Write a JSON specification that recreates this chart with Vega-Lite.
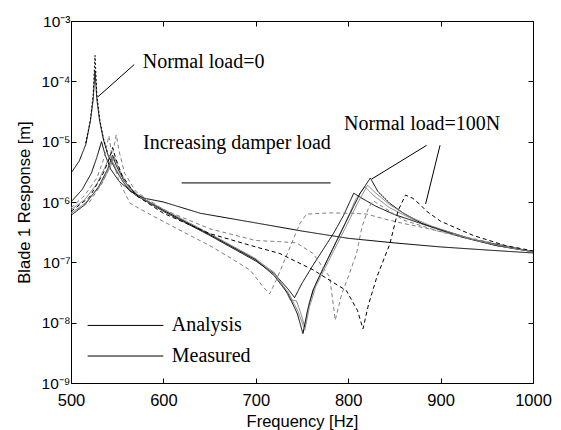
{
"$schema": "https://vega.github.io/schema/vega-lite/v6.json",
"width": 462, "height": 362,
"autosize": {"type": "none"},
"padding": {"left": 71, "top": 21, "right": 28, "bottom": 47},
"background": "white",
"config": {
  "view": {"stroke": "black", "strokeWidth": 1},
  "axis": {"grid": false, "domain": false, "labelFlush": false, "labelOverlap": false, "tickColor": "black", "tickSize": -5, "labelFont": "Liberation Sans", "labelFontSize": 16.5, "labelColor": "black", "titleFont": "Liberation Sans", "titleFontSize": 16.5, "titleFontWeight": "normal", "titleColor": "black"}
},
"datasets": {
"curves": [
{"c":"A0","f":500,"r":3e-6},{"c":"A0","f":509,"r":4.8e-6},{"c":"A0","f":516,"r":9e-6},{"c":"A0","f":521,"r":2.2e-5},{"c":"A0","f":524,"r":5e-5},{"c":"A0","f":526,"r":1.5e-4},{"c":"A0","f":528,"r":5e-5},{"c":"A0","f":531,"r":2.2e-5},{"c":"A0","f":535,"r":1.1e-5},{"c":"A0","f":540,"r":6e-6},{"c":"A0","f":548,"r":3.5e-6},{"c":"A0","f":556,"r":2.2e-6},{"c":"A0","f":564,"r":1.5e-6},{"c":"A0","f":580,"r":1.15e-6},{"c":"A0","f":600,"r":1e-6},{"c":"A0","f":640,"r":6.5e-7},{"c":"A0","f":700,"r":4.5e-7},{"c":"A0","f":750,"r":3.3e-7},{"c":"A0","f":800,"r":2.5e-7},{"c":"A0","f":850,"r":2.1e-7},{"c":"A0","f":900,"r":1.8e-7},{"c":"A0","f":950,"r":1.6e-7},{"c":"A0","f":1000,"r":1.43e-7},
{"c":"M0","f":516,"r":9.5e-6},{"c":"M0","f":521,"r":2.3e-5},{"c":"M0","f":524,"r":6e-5},{"c":"M0","f":526,"r":2.7e-4},{"c":"M0","f":528,"r":6e-5},{"c":"M0","f":531,"r":2.4e-5},{"c":"M0","f":535,"r":1.15e-5},{"c":"M0","f":540,"r":6.2e-6},
{"c":"A1","f":500,"r":1e-6},{"c":"A1","f":512,"r":1.6e-6},{"c":"A1","f":522,"r":3e-6},{"c":"A1","f":528,"r":5.5e-6},{"c":"A1","f":533,"r":1e-5},{"c":"A1","f":537,"r":6e-6},{"c":"A1","f":543,"r":3.5e-6},{"c":"A1","f":552,"r":2.2e-6},{"c":"A1","f":570,"r":1.3e-6},{"c":"A1","f":600,"r":7e-7},{"c":"A1","f":650,"r":2.8e-7},{"c":"A1","f":700,"r":1.05e-7},{"c":"A1","f":720,"r":6.5e-8},{"c":"A1","f":735,"r":3.6e-8},{"c":"A1","f":742,"r":2.6e-8},{"c":"A1","f":750,"r":4.5e-8},{"c":"A1","f":762,"r":9e-8},{"c":"A1","f":784,"r":3e-7},{"c":"A1","f":795,"r":6e-7},{"c":"A1","f":806,"r":1.4e-6},{"c":"A1","f":815,"r":1.15e-6},{"c":"A1","f":830,"r":8.5e-7},{"c":"A1","f":850,"r":6.2e-7},{"c":"A1","f":877,"r":4.5e-7},{"c":"A1","f":900,"r":3.5e-7},{"c":"A1","f":935,"r":2.4e-7},{"c":"A1","f":970,"r":1.85e-7},{"c":"A1","f":1000,"r":1.5e-7},
{"c":"A2","f":500,"r":7.5e-7},{"c":"A2","f":515,"r":1.1e-6},{"c":"A2","f":528,"r":2e-6},{"c":"A2","f":537,"r":3.8e-6},{"c":"A2","f":542,"r":6e-6},{"c":"A2","f":547,"r":4e-6},{"c":"A2","f":555,"r":2.3e-6},{"c":"A2","f":570,"r":1.3e-6},{"c":"A2","f":600,"r":7.2e-7},{"c":"A2","f":650,"r":2.9e-7},{"c":"A2","f":700,"r":1.12e-7},{"c":"A2","f":720,"r":6.8e-8},{"c":"A2","f":732,"r":3.5e-8},{"c":"A2","f":737,"r":2.4e-8},{"c":"A2","f":744,"r":2.3e-8},{"c":"A2","f":749,"r":1.4e-8},{"c":"A2","f":753,"r":8.5e-9},{"c":"A2","f":758,"r":2.2e-8},{"c":"A2","f":765,"r":4.5e-8},{"c":"A2","f":780,"r":1.3e-7},{"c":"A2","f":797,"r":4.5e-7},{"c":"A2","f":808,"r":1.1e-6},{"c":"A2","f":818,"r":1.8e-6},{"c":"A2","f":827,"r":1.3e-6},{"c":"A2","f":845,"r":8e-7},{"c":"A2","f":880,"r":4.3e-7},{"c":"A2","f":920,"r":2.7e-7},{"c":"A2","f":960,"r":1.9e-7},{"c":"A2","f":1000,"r":1.5e-7},
{"c":"A3","f":500,"r":6e-7},{"c":"A3","f":515,"r":9e-7},{"c":"A3","f":530,"r":1.8e-6},{"c":"A3","f":540,"r":3.6e-6},{"c":"A3","f":545,"r":6e-6},{"c":"A3","f":549,"r":4e-6},{"c":"A3","f":557,"r":2.3e-6},{"c":"A3","f":570,"r":1.35e-6},{"c":"A3","f":600,"r":7.3e-7},{"c":"A3","f":650,"r":2.9e-7},{"c":"A3","f":700,"r":1.1e-7},{"c":"A3","f":720,"r":6e-8},{"c":"A3","f":735,"r":3e-8},{"c":"A3","f":745,"r":1.4e-8},{"c":"A3","f":751,"r":6.6e-9},{"c":"A3","f":756,"r":1.6e-8},{"c":"A3","f":762,"r":3.5e-8},{"c":"A3","f":777,"r":1.07e-7},{"c":"A3","f":795,"r":3.9e-7},{"c":"A3","f":813,"r":1.4e-6},{"c":"A3","f":824,"r":2.5e-6},{"c":"A3","f":832,"r":1.5e-6},{"c":"A3","f":845,"r":9.5e-7},{"c":"A3","f":860,"r":6.5e-7},{"c":"A3","f":880,"r":4.4e-7},{"c":"A3","f":920,"r":2.7e-7},{"c":"A3","f":960,"r":1.9e-7},{"c":"A3","f":1000,"r":1.5e-7},
{"c":"A4","f":500,"r":6.5e-7},{"c":"A4","f":515,"r":9.5e-7},{"c":"A4","f":530,"r":1.7e-6},{"c":"A4","f":540,"r":3.2e-6},{"c":"A4","f":547,"r":5.5e-6},{"c":"A4","f":551,"r":3.8e-6},{"c":"A4","f":560,"r":2e-6},{"c":"A4","f":575,"r":1.2e-6},{"c":"A4","f":600,"r":7.6e-7},{"c":"A4","f":650,"r":3e-7},{"c":"A4","f":700,"r":1.15e-7},{"c":"A4","f":720,"r":6.2e-8},{"c":"A4","f":735,"r":3.2e-8},{"c":"A4","f":746,"r":1.5e-8},{"c":"A4","f":753,"r":7.5e-9},{"c":"A4","f":758,"r":1.8e-8},{"c":"A4","f":765,"r":4e-8},{"c":"A4","f":780,"r":1.15e-7},{"c":"A4","f":798,"r":4e-7},{"c":"A4","f":810,"r":9.5e-7},{"c":"A4","f":821,"r":1.9e-6},{"c":"A4","f":830,"r":1.4e-6},{"c":"A4","f":845,"r":9e-7},{"c":"A4","f":865,"r":5.8e-7},{"c":"A4","f":890,"r":4e-7},{"c":"A4","f":930,"r":2.5e-7},{"c":"A4","f":970,"r":1.8e-7},{"c":"A4","f":1000,"r":1.5e-7},
{"c":"M1","f":500,"r":8e-7},{"c":"M1","f":515,"r":1.3e-6},{"c":"M1","f":528,"r":2.5e-6},{"c":"M1","f":536,"r":5.5e-6},{"c":"M1","f":541,"r":1.25e-5},{"c":"M1","f":545,"r":5e-6},{"c":"M1","f":552,"r":2.2e-6},{"c":"M1","f":564,"r":9.5e-7},{"c":"M1","f":585,"r":6.3e-7},{"c":"M1","f":618,"r":3.4e-7},{"c":"M1","f":650,"r":1.9e-7},{"c":"M1","f":672,"r":1.2e-7},{"c":"M1","f":694,"r":7.4e-8},{"c":"M1","f":708,"r":3.9e-8},{"c":"M1","f":715,"r":3e-8},{"c":"M1","f":722,"r":5e-8},{"c":"M1","f":735,"r":1.5e-7},{"c":"M1","f":748,"r":4.5e-7},{"c":"M1","f":755,"r":6.3e-7},{"c":"M1","f":780,"r":6.6e-7},{"c":"M1","f":805,"r":6.5e-7},{"c":"M1","f":820,"r":6.3e-7},{"c":"M1","f":840,"r":5.2e-7},{"c":"M1","f":860,"r":4.4e-7},{"c":"M1","f":880,"r":3.8e-7},{"c":"M1","f":910,"r":3e-7},{"c":"M1","f":950,"r":2.2e-7},{"c":"M1","f":1000,"r":1.5e-7},
{"c":"M2","f":500,"r":6.5e-7},{"c":"M2","f":520,"r":1e-6},{"c":"M2","f":535,"r":2.2e-6},{"c":"M2","f":543,"r":4.5e-6},{"c":"M2","f":547,"r":9e-6},{"c":"M2","f":549,"r":1.3e-5},{"c":"M2","f":552,"r":7e-6},{"c":"M2","f":558,"r":3e-6},{"c":"M2","f":570,"r":1.5e-6},{"c":"M2","f":600,"r":7.5e-7},{"c":"M2","f":650,"r":3.6e-7},{"c":"M2","f":700,"r":2.3e-7},{"c":"M2","f":726,"r":2.2e-7},{"c":"M2","f":744,"r":2.1e-7},{"c":"M2","f":762,"r":1.4e-7},{"c":"M2","f":780,"r":5.7e-8},{"c":"M2","f":786,"r":1.1e-8},{"c":"M2","f":793,"r":3e-8},{"c":"M2","f":800,"r":5.7e-8},{"c":"M2","f":809,"r":1.4e-7},{"c":"M2","f":815,"r":3.9e-7},{"c":"M2","f":822,"r":8e-7},{"c":"M2","f":827,"r":1.05e-6},{"c":"M2","f":845,"r":7e-7},{"c":"M2","f":860,"r":5e-7},{"c":"M2","f":900,"r":3.2e-7},{"c":"M2","f":950,"r":2.1e-7},{"c":"M2","f":1000,"r":1.5e-7},
{"c":"M3","f":500,"r":7e-7},{"c":"M3","f":520,"r":1.2e-6},{"c":"M3","f":535,"r":3e-6},{"c":"M3","f":542,"r":5.5e-6},{"c":"M3","f":545,"r":8e-6},{"c":"M3","f":548,"r":5.5e-6},{"c":"M3","f":555,"r":2.8e-6},{"c":"M3","f":570,"r":1.3e-6},{"c":"M3","f":600,"r":6.5e-7},{"c":"M3","f":650,"r":3e-7},{"c":"M3","f":700,"r":1.8e-7},{"c":"M3","f":726,"r":1.4e-7},{"c":"M3","f":762,"r":7.5e-8},{"c":"M3","f":798,"r":3.4e-8},{"c":"M3","f":810,"r":1.6e-8},{"c":"M3","f":816,"r":7.9e-9},{"c":"M3","f":822,"r":2e-8},{"c":"M3","f":831,"r":5.7e-8},{"c":"M3","f":845,"r":2e-7},{"c":"M3","f":854,"r":7.2e-7},{"c":"M3","f":862,"r":1.3e-6},{"c":"M3","f":870,"r":1.15e-6},{"c":"M3","f":878,"r":9e-7},{"c":"M3","f":885,"r":7e-7},{"c":"M3","f":900,"r":4.8e-7},{"c":"M3","f":935,"r":2.8e-7},{"c":"M3","f":970,"r":1.9e-7},{"c":"M3","f":1000,"r":1.55e-7}
],
"pointers": [
{"s":"p0","f":568.5,"r":1.9e-4},{"s":"p0","f":528.9,"r":5.5e-5},
{"s":"dl","f":619.8,"r":2.07e-6},{"s":"dl","f":781,"r":2.07e-6},
{"s":"pa","f":884.9,"r":8.7e-6},{"s":"pa","f":825.4,"r":2.4e-6},
{"s":"pb","f":899.4,"r":8.7e-6},{"s":"pb","f":883.8,"r":9.3e-7},
{"s":"la","f":518,"r":9e-9},{"s":"la","f":600,"r":9e-9},
{"s":"lm","f":518,"r":2.8e-9},{"s":"lm","f":600,"r":2.8e-9}
],
"notes": [
{"t":"Normal load=0","f":577.6,"r":2.1e-4},
{"t":"Increasing damper load","f":578,"r":9.5e-6},
{"t":"Normal load=100N","f":795.5,"r":2e-5},
{"t":"Analysis","f":609,"r":9e-9},
{"t":"Measured","f":609,"r":2.8e-9}
]
},
"layer": [
{
 "data": {"name": "curves"},
 "mark": {"type": "line", "strokeWidth": 1, "clip": true},
 "encoding": {
  "x": {"field": "f", "type": "quantitative", "scale": {"domain": [500, 1000], "nice": false, "zero": false},
        "axis": {"orient": "bottom", "values": [500,600,700,800,900,1000], "format": "d", "labelPadding": 14, "title": "Frequency [Hz]", "titlePadding": 5}},
  "y": {"field": "r", "type": "quantitative", "scale": {"type": "log", "domain": [1e-9, 1e-3], "nice": false},
        "axis": {"orient": "left", "values": [1e-9,1e-8,1e-7,1e-6,1e-5,1e-4,1e-3], "labelPadding": 6, "labelFontSize": 15.5,
                 "labelExpr": "'10' + ['⁻⁹','⁻⁸','⁻⁷','⁻⁶','⁻⁵','⁻⁴','⁻³'][round(log(datum.value)/LN10) + 9]",
                 "title": "Blade 1 Response [m]", "titlePadding": 9}},
  "color": {"field": "c", "type": "nominal", "legend": null,
            "scale": {"domain": ["A0","M0","A1","A2","A3","A4","M1","M2","M3"], "range": ["#000000","#000000","#000000","#808080","#000000","#808080","#808080","#808080","#000000"]}},
  "strokeDash": {"field": "c", "type": "nominal", "legend": null,
            "scale": {"domain": ["A0","M0","A1","A2","A3","A4","M1","M2","M3"], "range": [[1,0],[2,2],[1,0],[1,0],[1,0],[1,0],[4,3],[4,3],[4,3]]}}
 }
},
{
 "data": {"name": "pointers"},
 "mark": {"type": "line", "strokeWidth": 1, "color": "black"},
 "encoding": {
  "x": {"field": "f", "type": "quantitative", "scale": {"domain": [500, 1000], "nice": false, "zero": false}, "axis": {"orient": "top", "values": [500,600,700,800,900,1000], "labels": false, "title": null}},
  "y": {"field": "r", "type": "quantitative", "scale": {"type": "log", "domain": [1e-9, 1e-3], "nice": false}, "axis": {"orient": "right", "values": [1e-9,1e-8,1e-7,1e-6,1e-5,1e-4,1e-3], "labels": false, "title": null}},
  "detail": {"field": "s", "type": "nominal"}
 }
},
{
 "data": {"name": "notes"},
 "mark": {"type": "text", "align": "left", "baseline": "middle", "font": "Liberation Serif", "fontSize": 20, "color": "black"},
 "encoding": {
  "x": {"field": "f", "type": "quantitative", "scale": {"domain": [500, 1000], "nice": false, "zero": false}, "axis": null},
  "y": {"field": "r", "type": "quantitative", "scale": {"type": "log", "domain": [1e-9, 1e-3], "nice": false}, "axis": null},
  "text": {"field": "t"}
 }
}
],
"resolve": {"axis": {"x": "independent", "y": "independent"}}
}
